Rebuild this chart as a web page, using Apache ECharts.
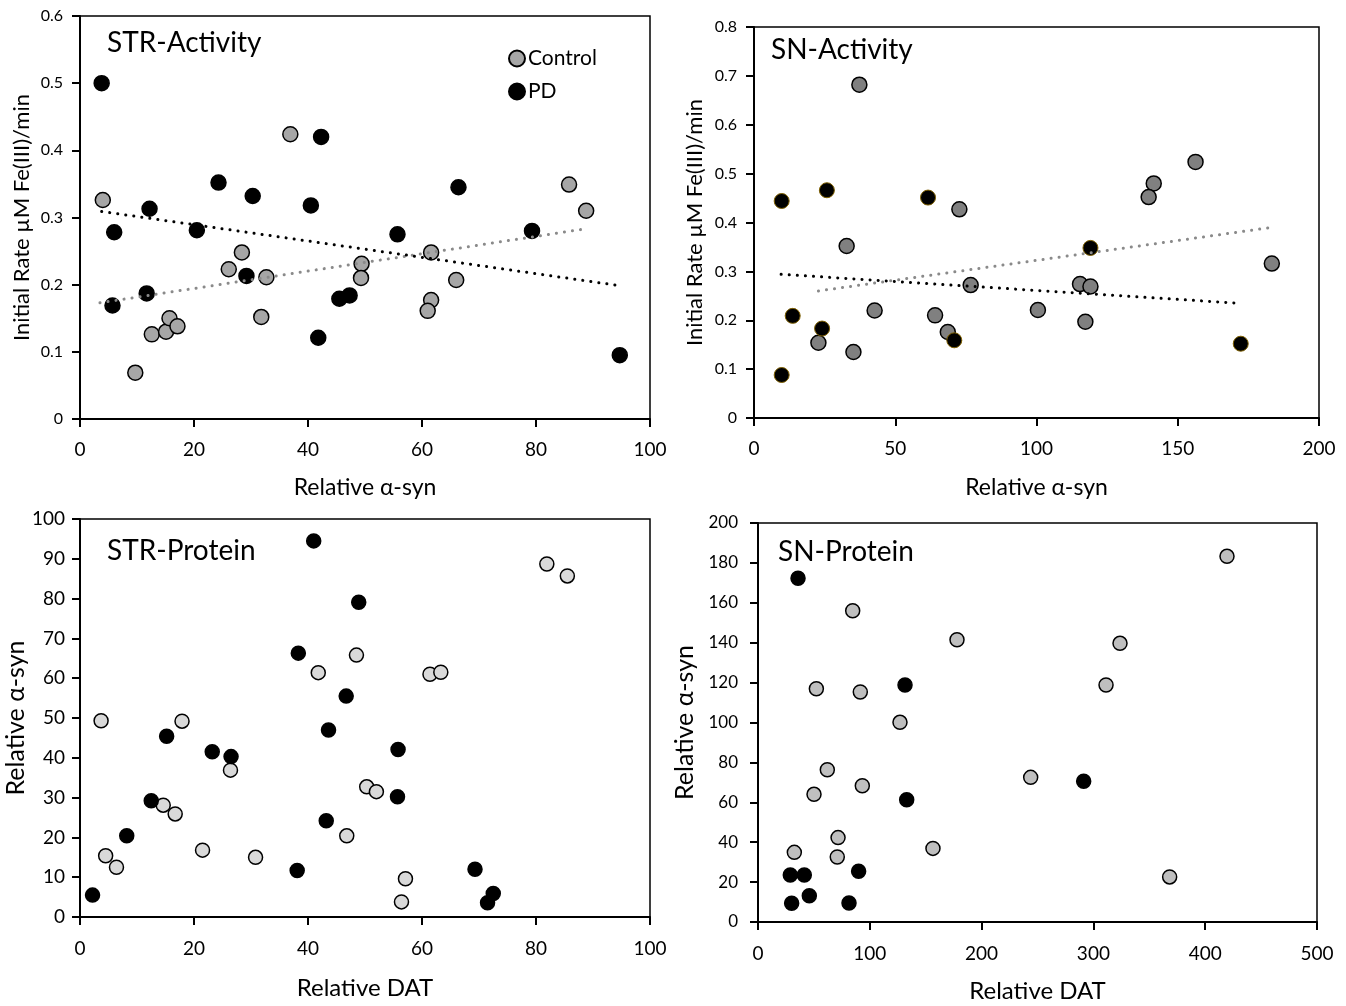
<!DOCTYPE html>
<html>
<head>
<meta charset="utf-8">
<script src="https://cdn.jsdelivr.net/npm/echarts@6/dist/echarts.min.js"></script>
<style>
html,body{margin:0;padding:0;background:#fff;}
#c{width:1346px;height:1006px;}
</style>
</head>
<body>
<div id="c"></div>
<script>
// ---------- DATA ----------
// Panel 1: STR-Activity  (x = Relative α-syn, y = Initial rate)
const strActControl = [[4.0,0.326],[9.7,0.069],[12.6,0.126],[15.1,0.130],[15.7,0.150],[17.1,0.138],[26.1,0.223],[28.4,0.248],[32.7,0.211],[31.8,0.152],[36.9,0.424],[49.4,0.231],[49.3,0.210],[61.6,0.248],[61.6,0.177],[61.0,0.161],[66.0,0.207],[85.8,0.349],[88.8,0.310]];
const strActPD = [[3.8,0.500],[6.0,0.278],[5.7,0.169],[12.2,0.313],[11.7,0.187],[20.5,0.281],[24.3,0.352],[30.3,0.332],[29.2,0.213],[40.5,0.318],[42.3,0.420],[41.8,0.121],[45.5,0.179],[47.3,0.184],[55.7,0.275],[66.4,0.345],[79.3,0.280],[94.7,0.095]];
const strActTrendControl = [[3.5,0.173],[88.6,0.283]];
const strActTrendPD = [[3.8,0.309],[94.3,0.199]];

// Panel 2: SN-Activity
const snActControl = [[37.3,0.682],[32.8,0.352],[22.8,0.154],[35.2,0.135],[42.7,0.220],[72.7,0.427],[76.7,0.272],[64.1,0.210],[68.6,0.176],[156.3,0.524],[141.5,0.480],[139.7,0.452],[183.3,0.316],[115.4,0.274],[119.1,0.269],[100.5,0.221],[117.3,0.197]];
const snActPD = [[9.8,0.444],[25.8,0.466],[61.6,0.451],[13.7,0.209],[24.1,0.183],[9.8,0.088],[70.9,0.159],[119.1,0.348],[172.3,0.152]];
const snActTrendControl = [[22.8,0.260],[183.3,0.390]];
const snActTrendPD = [[9.6,0.294],[171.1,0.235]];

// Panel 3: STR-Protein (x = Relative DAT, y = Relative α-syn)
const strProtControl = [[3.7,49.3],[4.5,15.4],[6.4,12.5],[17.9,49.2],[14.6,28.1],[16.7,25.9],[21.5,16.8],[26.4,36.9],[30.8,15.0],[41.8,61.4],[48.5,65.8],[61.4,61.0],[63.3,61.5],[50.3,32.7],[52.0,31.5],[46.8,20.4],[57.1,9.6],[56.4,3.8],[81.9,88.7],[85.5,85.7]];
const strProtPD = [[2.2,5.5],[8.2,20.4],[12.5,29.2],[15.2,45.4],[23.2,41.5],[26.5,40.3],[38.1,11.7],[38.3,66.3],[41.0,94.5],[43.6,47.0],[43.2,24.2],[48.9,79.1],[46.7,55.5],[55.8,42.1],[55.7,30.2],[69.3,12.0],[72.5,5.9],[71.5,3.6]];

// Panel 4: SN-Protein
const snProtControl = [[84.7,156.0],[178.0,141.5],[52.2,116.9],[91.5,115.3],[127.0,100.1],[62.0,76.3],[93.3,68.3],[50.1,64.0],[71.6,42.3],[70.9,32.6],[32.5,34.9],[156.5,36.9],[419.5,183.3],[323.8,139.7],[311.3,118.8],[243.9,72.5],[368.2,22.6]];
const snProtPD = [[35.8,172.3],[131.5,118.8],[133.0,61.3],[28.9,23.6],[41.4,23.6],[90.0,25.4],[45.9,13.2],[30.1,9.4],[81.4,9.5],[291.3,70.5]];

const panelTitles = ['STR-Activity','SN-Activity','STR-Protein','SN-Protein'];
const legendNames = ['Control','PD'];
const yNameActivity = 'Initial Rate µM Fe(III)/min';
const nameAsyn = 'Relative α-syn';
const nameDAT = 'Relative DAT';

// ---------- CHART ----------
const FONT = 'Lato';
const chart = echarts.init(document.getElementById('c'), null, {renderer:'canvas'});

function xAx(idx, min, max, interval, name, opt){
  return {
    gridIndex: idx, type:'value', min, max, interval,
    name, nameLocation:'middle', nameGap: opt.nameGap,
    nameTextStyle:{fontFamily:FONT, fontSize:opt.nameSize, color:'#000'},
    axisLine:{show:true, onZero:false, lineStyle:{color:'#000', width:2}},
    axisTick:{show:true, length:8, lineStyle:{color:'#000', width:2}},
    axisLabel:{fontFamily:FONT, fontSize:opt.labelSize, color:'#000', margin:opt.margin},
    splitLine:{show:false}
  };
}
function yAx(idx, min, max, interval, name, opt){
  return {
    gridIndex: idx, type:'value', min, max, interval,
    name, nameLocation:'middle', nameGap: opt.nameGap,
    nameTextStyle:{fontFamily:FONT, fontSize:opt.nameSize, color:'#000'},
    axisLine:{show:true, onZero:false, lineStyle:{color:'#000', width:2}},
    axisTick:{show:true, length:8, lineStyle:{color:'#000', width:2}},
    axisLabel:{fontFamily:FONT, fontSize:opt.labelSize, color:'#000', margin:opt.margin},
    splitLine:{show:false}
  };
}
function scatter(name, idx, data, fill, border, bw, size, z){
  return {
    name, type:'scatter', xAxisIndex:idx, yAxisIndex:idx, data,
    symbol:'circle', symbolSize:size, z,
    itemStyle:{color:fill, borderColor:border, borderWidth:bw, opacity:1},
    emphasis:{disabled:true}, silent:true
  };
}
function trend(name, idx, data, color){
  return {
    name, type:'line', xAxisIndex:idx, yAxisIndex:idx, data,
    symbol:'none', showSymbol:false, z:10, silent:true,
    lineStyle:{color, width:3, type:[0.1,8], cap:'round'},
    emphasis:{disabled:true}
  };
}

const option = {
  animation:false,
  backgroundColor:'#fff',
  grid:[
    {left:80, top:16, width:570, height:403, show:true, borderColor:'#000', borderWidth:1.5, backgroundColor:'transparent'},
    {left:754, top:27, width:565, height:391, show:true, borderColor:'#000', borderWidth:1.5, backgroundColor:'transparent'},
    {left:80, top:519, width:570, height:398, show:true, borderColor:'#000', borderWidth:1.5, backgroundColor:'transparent'},
    {left:758, top:523, width:559, height:399, show:true, borderColor:'#000', borderWidth:1.5, backgroundColor:'transparent'}
  ],
  title: [
    {text:panelTitles[0], left:107, top:29, padding:0, textStyle:{fontFamily:FONT, fontSize:28, fontWeight:'normal', color:'#000'}},
    {text:panelTitles[1], left:771, top:36, padding:0, textStyle:{fontFamily:FONT, fontSize:28, fontWeight:'normal', color:'#000'}},
    {text:panelTitles[2], left:107, top:537, padding:0, textStyle:{fontFamily:FONT, fontSize:28, fontWeight:'normal', color:'#000'}},
    {text:panelTitles[3], left:778, top:538, padding:0, textStyle:{fontFamily:FONT, fontSize:28, fontWeight:'normal', color:'#000'}}
  ],
  legend:{
    data:legendNames, orient:'vertical', left:508, top:48, padding:0,
    itemWidth:16, itemHeight:16, itemGap:12, icon:'circle',
    textStyle:{fontFamily:FONT, fontSize:21, color:'#000', padding:[0,0,0,-2]},
    selectedMode:false
  },
  xAxis:[
    xAx(0, 0, 100, 20, nameAsyn, {nameGap:57, nameSize:23, labelSize:19, margin:21}),
    xAx(1, 0, 200, 50, nameAsyn, {nameGap:58, nameSize:23, labelSize:19, margin:21}),
    xAx(2, 0, 100, 20, nameDAT, {nameGap:59, nameSize:24, labelSize:19, margin:22}),
    xAx(3, 0, 500, 100, nameDAT, {nameGap:57, nameSize:24, labelSize:19, margin:22})
  ],
  yAxis:[
    yAx(0, 0, 0.6, 0.1, yNameActivity, {nameGap:47, nameSize:22, labelSize:16, margin:17}),
    yAx(1, 0, 0.8, 0.1, yNameActivity, {nameGap:48, nameSize:22, labelSize:16, margin:17}),
    yAx(2, 0, 100, 10, nameAsyn, {nameGap:52, nameSize:25, labelSize:19, margin:15}),
    yAx(3, 0, 200, 20, nameAsyn, {nameGap:61, nameSize:25, labelSize:17, margin:20})
  ],
  series:[
    scatter('Control', 0, strActControl, '#a6a6a6', '#000', 1.5, 15, 2),
    scatter('PD', 0, strActPD, '#000', '#000', 1.5, 15, 3),
    trend('Control trend', 0, strActTrendControl, '#8a8a8a'),
    trend('PD trend', 0, strActTrendPD, '#000'),

    scatter('Control', 1, snActControl, '#808080', '#000', 1.5, 15, 2),
    scatter('PD', 1, snActPD, '#000', '#7f6000', 1, 15, 3),
    trend('Control trend', 1, snActTrendControl, '#8a8a8a'),
    trend('PD trend', 1, snActTrendPD, '#000'),

    scatter('Control', 2, strProtControl, '#d9d9d9', '#000', 1.5, 14, 2),
    scatter('PD', 2, strProtPD, '#000', '#000', 1.5, 14, 3),

    scatter('Control', 3, snProtControl, '#bfbfbf', '#000', 1.5, 14, 2),
    scatter('PD', 3, snProtPD, '#000', '#000', 1.5, 14, 3)
  ]
};
chart.setOption(option);
</script>
</body>
</html>
